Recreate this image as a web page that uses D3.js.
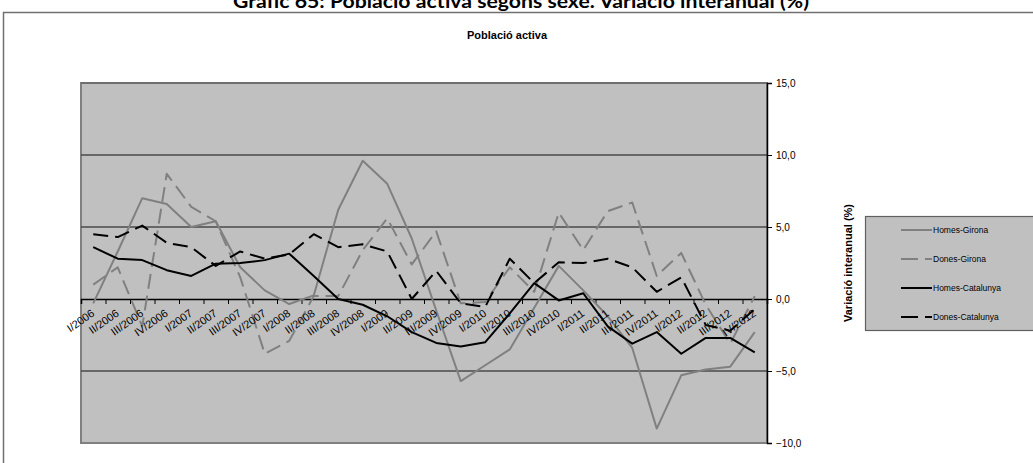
<!DOCTYPE html>
<html>
<head>
<meta charset="utf-8">
<script src="https://cdn.jsdelivr.net/npm/d3@7"></script>
<style>
  body { margin: 0; background: #fff; }
  svg { display: block; font-family: "Liberation Sans", Arial, sans-serif; }
</style>
</head>
<body>
<svg id="chart" width="1033" height="463"></svg>
<script>
// Població activa: variació interanual (%) per trimestre

const quarters = [
  "I/2006", "II/2006", "III/2006", "IV/2006",
  "I/2007", "II/2007", "III/2007", "IV/2007",
  "I/2008", "II/2008", "III/2008", "IV/2008",
  "I/2009", "II/2009", "III/2009", "IV/2009",
  "I/2010", "II/2010", "III/2010", "IV/2010",
  "I/2011", "II/2011", "III/2011", "IV/2011",
  "I/2012", "II/2012", "III/2012", "IV/2012"
];

const homesGirona = [-0.3, 3.3, 7.0, 6.6, 5.0, 5.4, 2.2, 0.6, -0.35, 0.25, 6.2, 9.6, 8.0, 4.2,
  -0.8, -5.7, -4.6, -3.5, -0.6, 2.3, 0.6, -1.2, -3.4, -9.0, -5.3, -4.9, -4.7, -2.3];
const donesGirona = [1.0, 2.2, -1.9, 8.7, 6.4, 5.4, 1.5, -3.8, -2.9, 0.2, 0.2, 3.4, 5.6, 2.4,
  4.7, -0.3, -0.2, 2.2, 0.5, 6.0, 3.4, 6.1, 6.7, 1.6, 3.2, -0.4, -3.1, 0.2];
const homesCatalunya = [3.6, 2.8, 2.7, 2.0, 1.6, 2.45, 2.5, 2.7, 3.15, 1.6, 0.0, -0.4, -1.2, -2.3,
  -3.05, -3.3, -3.0, -1.0, 1.1, -0.1, 0.4, -1.9, -3.1, -2.3, -3.8, -2.7, -2.7, -3.7];
const donesCatalunya = [4.5, 4.3, 5.1, 3.9, 3.6, 2.3, 3.3, 2.8, 3.1, 4.5, 3.6, 3.8, 3.3, 0.0,
  1.95, -0.3, -0.55, 2.8, 1.1, 2.55, 2.5, 2.8, 2.2, 0.5, 1.5, -1.8, -2.2, -0.7];

const yTicks = [-10, -5, 0, 5, 10, 15];

const series = [
  { name: "Homes-Girona", values: homesGirona, color: "#808080", dash: null },
  { name: "Dones-Girona", values: donesGirona, color: "#808080", dash: "15,7" },
  { name: "Homes-Catalunya", values: homesCatalunya, color: "#000000", dash: null },
  { name: "Dones-Catalunya", values: donesCatalunya, color: "#000000", dash: "15,7" }
];

const svg = d3.select("#chart");

// plot area
const plotLeft = 81, plotRight = 767, plotTop = 83, plotBottom = 443;

const xBand = d3.scaleBand().domain(quarters).range([plotLeft, plotRight]);
const xEdge = d3.scaleLinear().domain([0, quarters.length]).range([plotLeft, plotRight]);
const yScale = d3.scaleLinear().domain([-10, 15]).range([plotBottom, plotTop]);

const fmt = d3.formatLocale({ decimal: ",", thousands: ".", grouping: [3], currency: ["", "€"] }).format(".1f");

// main title (cut at the top edge, as in the source)
svg.append("text")
  .attr("x", 521).attr("y", 8)
  .attr("text-anchor", "middle")
  .attr("font-family", "Lato, 'DejaVu Sans', sans-serif")
  .attr("font-weight", "bold")
  .attr("font-size", 18)
  .attr("textLength", 576)
  .attr("lengthAdjust", "spacingAndGlyphs")
  .text("Gràfic 65: Població activa segons sexe. Variació interanual (%)");

// outer chart frame
svg.append("path")
  .attr("d", `M3.5,463 V12.5 H1040`)
  .attr("fill", "none")
  .attr("stroke", "#707070")
  .attr("stroke-width", 1.5);

svg.append("text")
  .attr("x", 507).attr("y", 39)
  .attr("text-anchor", "middle")
  .attr("font-weight", "bold")
  .attr("font-size", 11)
  .text("Població activa");

// plot background
svg.append("rect")
  .attr("x", plotLeft).attr("y", plotTop)
  .attr("width", plotRight - plotLeft).attr("height", plotBottom - plotTop)
  .attr("fill", "#c0c0c0")
  .attr("stroke", "#808080")
  .attr("stroke-width", 2);

// gridlines
svg.append("g")
  .selectAll("line")
  .data(yTicks.filter(d => d !== 0 && d !== -10))
  .join("line")
  .attr("x1", plotLeft).attr("x2", plotRight)
  .attr("y1", d => yScale(d)).attr("y2", d => yScale(d))
  .attr("stroke", d => d === 15 ? "#6a6a6a" : "#4a4a4a")
  .attr("stroke-width", 1.5);

// right y axis
const yAxis = d3.axisRight(yScale)
  .tickValues(yTicks)
  .tickSize(5)
  .tickPadding(4)
  .tickFormat(fmt);

const gy = svg.append("g")
  .attr("transform", `translate(${plotRight},0)`)
  .call(yAxis);
gy.select(".domain").attr("stroke", "#000").attr("stroke-width", 1.5);
gy.selectAll("text").attr("font-size", 10).attr("fill", "#000")
  .attr("font-family", "'Liberation Sans', Arial, sans-serif");

// x axis on the zero line
const x0 = yScale(0);
const gxTicks = svg.append("g")
  .attr("transform", `translate(0,${x0})`)
  .call(d3.axisBottom(xEdge).tickValues(d3.range(quarters.length + 1)).tickSize(5).tickFormat(""));
gxTicks.select(".domain").attr("stroke", "#000").attr("stroke-width", 1.5);

// data lines
const line = d3.line()
  .x((d, i) => xBand(quarters[i]) + xBand.bandwidth() / 2)
  .y(d => yScale(d));

svg.append("g")
  .selectAll("path")
  .data(series)
  .join("path")
  .attr("d", d => line(d.values))
  .attr("fill", "none")
  .attr("stroke", d => d.color)
  .attr("stroke-width", 2)
  .attr("stroke-dasharray", d => d.dash)
  .attr("stroke-linejoin", "round");

// category labels, rotated, drawn above the lines
const gx = svg.append("g")
  .attr("transform", `translate(0,${x0})`)
  .call(d3.axisBottom(xBand).tickSize(0).tickPadding(0));
gx.select(".domain").remove();
gx.selectAll("text")
  .attr("font-size", 11)
  .attr("fill", "#000")
  .attr("font-family", "'Liberation Sans', Arial, sans-serif")
  .attr("text-anchor", "end")
  .attr("y", 0).attr("dy", 0)
  .attr("transform", "translate(2,16) rotate(-35)");

// y axis title
svg.append("text")
  .attr("transform", "translate(852,263) rotate(-90)")
  .attr("text-anchor", "middle")
  .attr("font-weight", "bold")
  .attr("font-size", 11)
  .text("Variació interanual (%)");

// legend
const legend = svg.append("g");
legend.append("rect")
  .attr("x", 865.5).attr("y", 216.5)
  .attr("width", 200).attr("height", 114)
  .attr("fill", "#c0c0c0")
  .attr("stroke", "#606060")
  .attr("stroke-width", 1.2);

const legendY = d3.scalePoint().domain(series.map(s => s.name)).range([230, 317]);

const items = legend.selectAll("g.item")
  .data(series)
  .join("g")
  .attr("class", "item")
  .attr("transform", d => `translate(0,${legendY(d.name)})`);

items.append("line")
  .attr("x1", 901).attr("x2", 932)
  .attr("stroke", d => d.color)
  .attr("stroke-width", 2)
  .attr("stroke-dasharray", d => d.dash ? "17,7" : null);

items.append("text")
  .attr("x", 933).attr("dy", "0.35em")
  .attr("font-size", 8.5)
  .text(d => d.name);
</script>
</body>
</html>
